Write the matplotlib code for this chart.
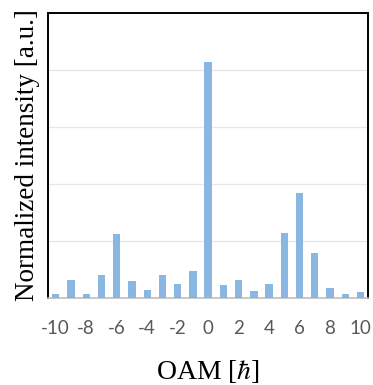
import matplotlib
matplotlib.use('Agg')
import matplotlib.pyplot as plt

# OAM modes and normalized intensities
oam = list(range(-10, 11))
intensity = [0.075, 0.32, 0.075, 0.40, 1.12, 0.30, 0.14, 0.40, 0.25, 0.47,
             4.14, 0.23, 0.32, 0.13, 0.25, 1.14, 1.84, 0.79, 0.18, 0.075, 0.11]
xtick_vals = list(range(-10, 11, 2))

plt.rcParams['mathtext.fontset'] = 'stix'

fig = plt.figure(figsize=(3.73, 3.85), dpi=100)
ax = fig.add_axes([0.129, 0.226, 0.858, 0.740])

ax.bar(oam, intensity, width=0.48, color='#8AB6E2', zorder=3)

ax.set_xlim(-10.5, 10.5)
ax.set_ylim(0, 5)
ax.set_yticks([1, 2, 3, 4])
ax.set_yticklabels([])
ax.grid(axis='y', color='#E6E6E6', linewidth=0.9, zorder=0)
ax.tick_params(axis='y', length=0)

ax.set_xticks(xtick_vals)
ax.set_xticklabels([str(v) for v in xtick_vals], fontsize=13.5,
                   color='#595959', family=['Lato', 'DejaVu Sans'])
ax.tick_params(axis='x', length=0, pad=16)

for side in ['left', 'top', 'right']:
    ax.spines[side].set_color('black')
    ax.spines[side].set_linewidth(1.4)
ax.spines['bottom'].set_color('#BFBFBF')
ax.spines['bottom'].set_linewidth(1.2)

ax.set_xlabel(r'OAM [$\hbar$]', fontsize=20, family='Liberation Serif', labelpad=15)
ax.set_ylabel('Normalized intensity [a.u.]', fontsize=19.5, family='Liberation Serif',
              labelpad=2)

fig.savefig('out.png', dpi=100)
